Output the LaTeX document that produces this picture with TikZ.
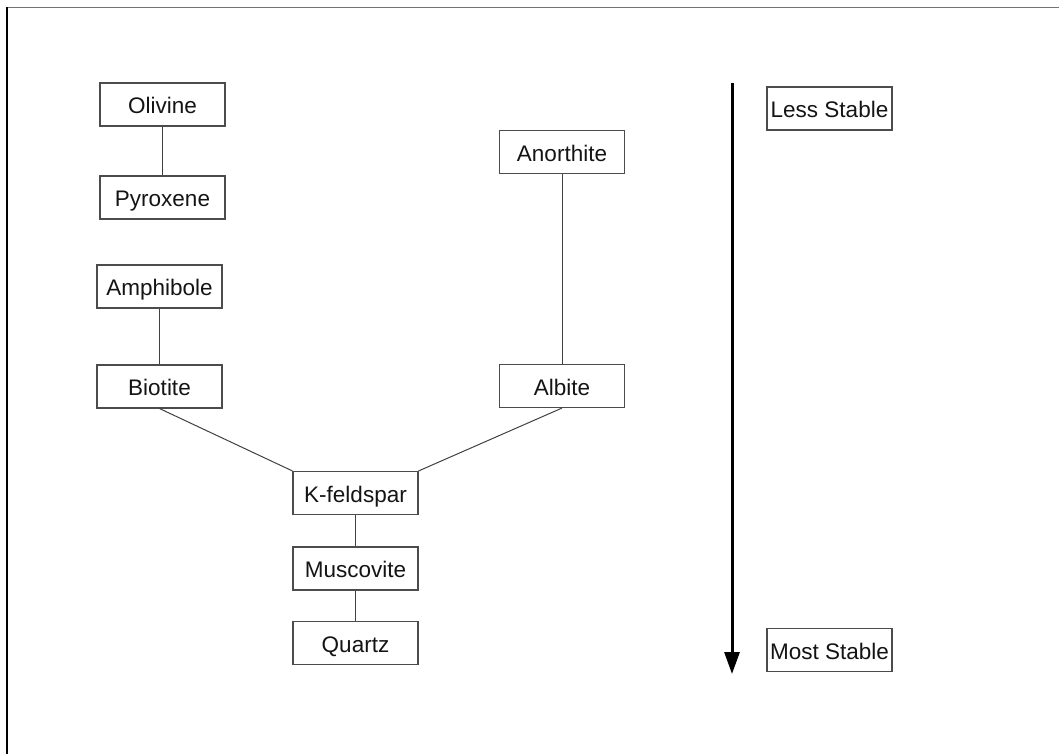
\documentclass[tikz,border=0pt]{standalone}
\usepackage{fontspec}
\setmainfont{Liberation Sans}
\usetikzlibrary{arrows.meta}
\begin{document}
\begin{tikzpicture}[x=1pt,y=-1pt,
  mineral/.style={draw=black!70, line width=1.1pt, fill=white,
    minimum width=125pt, minimum height=43pt, inner sep=0pt,
    text height=20pt, text depth=2pt,
    font=\fontsize{22.5}{25}\selectfont, text=black!92},
  link/.style={draw=black!75, line width=1pt},
  trend/.style={line width=3pt, -{Triangle[length=22pt,width=15pt]}}]
\useasboundingbox (0,0) rectangle (1059,754);
% page frame (top and left edges)
\draw[black!55, line width=1.5pt] (7,7.5) -- (1059,7.5);
\draw[black, line width=1.5pt] (7,7.5) -- (7,754);

% discontinuous branch
\node[mineral] (olivine)   at (162.5,104.5) {Olivine};
\node[mineral] (pyroxene)  at (162.5,197.5) {Pyroxene};
\node[mineral] (amphibole) at (159.5,286.5) {Amphibole};
\node[mineral] (biotite)   at (159.5,386.5) {Biotite};
% continuous branch
\node[mineral] (anorthite) at (562,152) {Anorthite};
\node[mineral] (albite)    at (562,386) {Albite};
% common series
\node[mineral] (kfeldspar) at (355.5,493) {K-feldspar};
\node[mineral] (muscovite) at (355.5,568.5) {Muscovite};
\node[mineral] (quartz)    at (355.5,643) {Quartz};
% stability scale
\node[mineral] (less) at (829.5,108.5) {Less Stable};
\node[mineral] (most) at (829.5,650) {Most Stable};

\draw[link] (olivine.south) -- (pyroxene.north);
\draw[link] (amphibole.south) -- (biotite.north);
\draw[link] (anorthite.south) -- (albite.north);
\draw[link] (biotite.south) -- (kfeldspar.north west);
\draw[link] (albite.south) -- (kfeldspar.north east);
\draw[link] (kfeldspar.south) -- (muscovite.north);
\draw[link] (muscovite.south) -- (quartz.north);

\coordinate (top) at (732,83);
\coordinate (bottom) at (732,674);
\draw[trend] (top) -- (bottom);
\end{tikzpicture}
\end{document}
